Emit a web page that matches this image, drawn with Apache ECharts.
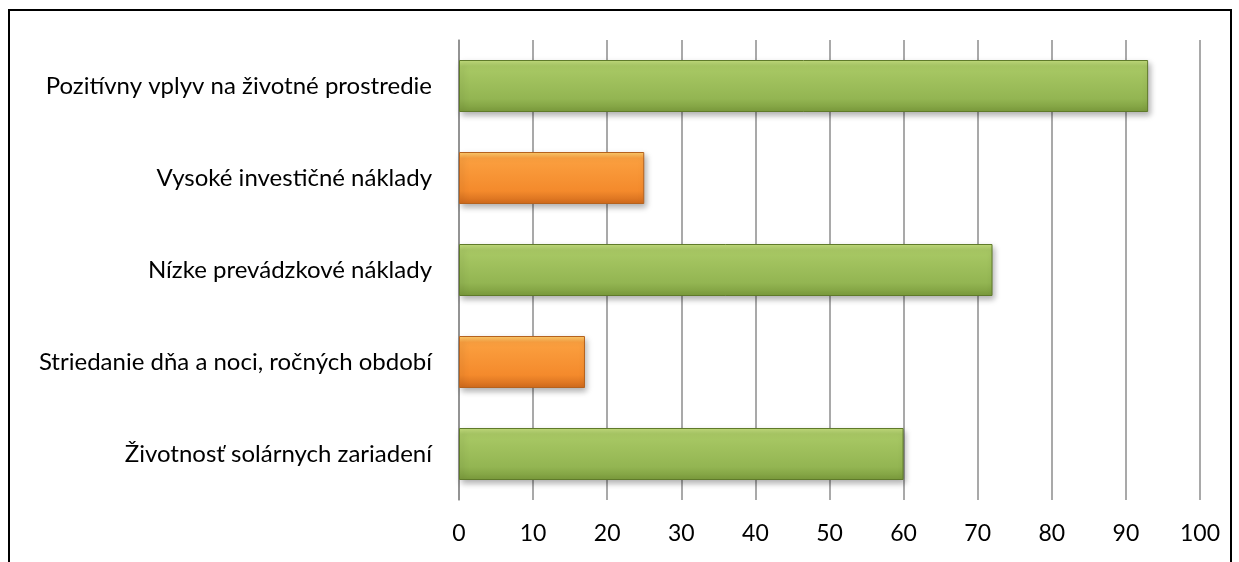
<!DOCTYPE html>
<html>
<head>
<meta charset="utf-8">
<script src="https://cdn.jsdelivr.net/npm/echarts@6/dist/echarts.min.js"></script>
<style>
  html, body { margin: 0; padding: 0; background: #fff; }
  #chart { width: 1239px; height: 562px; }
</style>
</head>
<body>
<div id="chart"></div>
<script>
// bottom to top, as the value axis reads
const categories = [
  "Životnosť solárnych zariadení",
  "Striedanie dňa a noci, ročných období",
  "Nízke prevádzkové náklady",
  "Vysoké investičné náklady",
  "Pozitívny vplyv na životné prostredie",
];
const values = [60, 17, 72, 25, 93];
const barKinds = ["green", "orange", "green", "orange", "green"];
const xTicks = [0, 10, 20, 30, 40, 50, 60, 70, 80, 90, 100];

const green = new echarts.graphic.LinearGradient(0, 0, 0, 1, [
  { offset: 0, color: "#c4de7e" },
  { offset: 0.12, color: "#a9c965" },
  { offset: 0.75, color: "#93b552" },
  { offset: 1, color: "#7a9a3c" },
]);
const orange = new echarts.graphic.LinearGradient(0, 0, 0, 1, [
  { offset: 0, color: "#ffd070" },
  { offset: 0.12, color: "#fba040" },
  { offset: 0.75, color: "#f48a2c" },
  { offset: 1, color: "#d06a1c" },
]);

const chart = echarts.init(document.getElementById("chart"));

chart.setOption({
  animation: false,
  textStyle: { fontFamily: "Lato, 'Open Sans', sans-serif" },
  graphic: [
    {
      type: "rect",
      shape: { x: 9, y: 10, width: 1222, height: 580 },
      style: { fill: "none", stroke: "#000", lineWidth: 2 },
      silent: true,
    },
  ],
  grid: { left: 459, right: 39, top: 40, bottom: 62, containLabel: false },
  xAxis: {
    type: "value",
    min: xTicks[0],
    max: xTicks[xTicks.length - 1],
    interval: 10,
    axisLine: { show: false },
    axisTick: { show: false },
    splitLine: { lineStyle: { color: "#8c8c8c", width: 1.5 } },
    axisLabel: { color: "#000", fontSize: 23, margin: 22 },
  },
  yAxis: {
    type: "category",
    data: categories,
    axisLine: { show: true, lineStyle: { color: "#8c8c8c", width: 1.5 } },
    axisTick: { show: false },
    axisLabel: { color: "#000", fontSize: 24, margin: 27 },
  },
  series: [
    {
      type: "bar",
      barWidth: 52,
      data: values.map((v, i) => ({
        value: v,
        itemStyle: {
          color: barKinds[i] === "green" ? green : orange,
          borderColor: barKinds[i] === "green" ? "#5f7a2a" : "#b5621e",
          borderWidth: 1,
          shadowColor: "rgba(0,0,0,0.3)",
          shadowBlur: 6,
          shadowOffsetX: 2,
          shadowOffsetY: 3,
        },
      })),
    },
  ],
});
</script>
</body>
</html>
